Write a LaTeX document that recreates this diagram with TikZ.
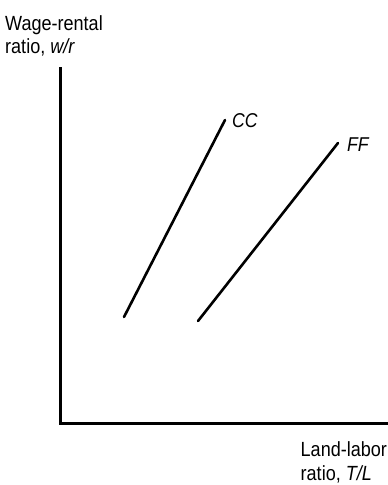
\documentclass[tikz,border=0pt]{standalone}
\usepackage{fontspec}
\setmainfont{Liberation Sans}[FakeStretch=0.88]
\begin{document}
\begin{tikzpicture}[x=1pt,y=-1pt,
  axis/.style={line width=3pt},
  schedule/.style={line width=2.6pt,line cap=round},
  lbl/.style={font=\fontsize{20.5}{24}\selectfont,inner sep=0pt,anchor=base west},
  curvelbl/.style={font=\fontsize{20}{24}\selectfont\itshape,inner sep=0pt,anchor=base west}]
\useasboundingbox (0,0) rectangle (388,485);
\coordinate (ytop) at (60,67);
\coordinate (orig) at (60,423);
\coordinate (xend) at (388,423);
\draw[axis] (ytop) -- (orig) -- (xend);
\coordinate (c1) at (124,317);
\coordinate (c2) at (225,120);
\coordinate (f1) at (198,321);
\coordinate (f2) at (338,143);
\draw[schedule] (c1) -- (c2);
\draw[schedule] (f1) -- (f2);
\node[curvelbl] (cc) at (232,127) {CC};
\node[curvelbl] (ff) at (347,151) {FF};
\node[lbl] (yl1) at (5,30) {Wage-rental};
\node[lbl] (yl2) at (5,53.5) {ratio, \textit{w/r}};
\node[lbl] (xl1) at (300.5,456) {Land-labor};
\node[lbl] (xl2) at (300.5,480.5) {ratio, \textit{T/L}};
\end{tikzpicture}
\end{document}
